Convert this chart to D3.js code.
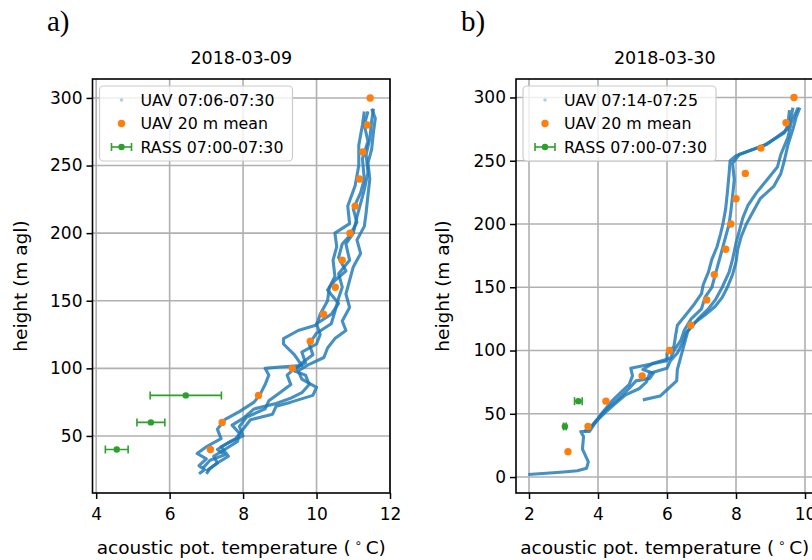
<!DOCTYPE html>
<html><head><meta charset="utf-8">
<script src="https://cdn.jsdelivr.net/npm/d3@7"></script>
<style>
body{margin:0;background:#fff}
svg{display:block}
text{font-family:"DejaVu Sans",sans-serif;fill:#000}
</style>
</head><body>
<svg id="c" width="812" height="560"></svg>
<script>
// ---------- DATA ----------
// Panel a) 2018-03-09
const titleA = "2018-03-09";
const uavLabelA = "UAV 07:06-07:30";
const xTicksA = [4, 6, 8, 10, 12];
const yTicksA = [50, 100, 150, 200, 250, 300];
const uavA1 = [[6.8,22],[6.95,25],[6.8,28],[7.0,33],[6.75,37],[7.0,42],[7.4,48],[7.3,55],[7.5,62],[7.9,68],[8.3,75],[8.45,80],[8.6,88],[8.7,95],[8.6,100],[9.0,101],[9.6,102],[9.4,110],[9.1,118],[9.1,122],[9.5,128],[10.0,132],[10.1,140],[10.3,150],[10.35,160],[10.5,168],[10.45,180],[10.55,190],[10.5,200],[10.9,207],[10.85,220],[11.05,235],[11.15,250],[11.15,265],[11.25,280],[11.3,290]];
const uavA2 = [[7.0,22],[7.1,26],[7.3,30],[7.2,35],[7.5,40],[7.85,46],[7.9,52],[7.7,58],[8.0,63],[8.3,70],[8.9,74],[9.3,78],[9.6,82],[9.8,88],[9.7,95],[9.4,98],[9.6,104],[9.9,110],[9.8,118],[10.0,126],[10.4,133],[10.5,142],[10.6,152],[10.7,160],[10.6,170],[10.9,180],[10.8,192],[11.0,200],[11.1,212],[11.2,222],[11.3,232],[11.4,245],[11.35,258],[11.45,270],[11.5,283],[11.55,292]];
const uavA3 = [[7.0,24],[7.3,30],[7.6,35],[7.4,42],[7.8,48],[8.0,55],[8.2,62],[8.8,66],[8.9,72],[9.3,75],[9.9,80],[10.0,86],[9.6,92],[9.5,98],[9.8,103],[10.2,108],[10.3,115],[10.5,122],[10.8,128],[10.7,135],[10.9,145],[10.8,155],[10.9,165],[11.0,175],[11.2,185],[11.1,195],[11.3,205],[11.35,215],[11.4,228],[11.45,240],[11.4,252],[11.5,262],[11.55,275],[11.6,285],[11.5,292]];
const uavA4 = [[6.9,26],[7.1,32],[7.5,36],[7.3,40],[7.6,45],[8.0,50],[7.9,57],[8.1,64],[8.6,70],[8.7,76],[9.0,82],[9.3,88],[9.2,95],[9.4,100],[9.7,104],[9.6,112],[10.0,118],[10.1,125],[10.0,133],[10.4,140],[10.6,148],[10.3,158],[10.5,165],[10.8,172],[10.6,182],[10.7,192],[10.9,198],[11.1,208],[11.0,218],[11.2,230],[11.3,240],[11.25,255],[11.4,268],[11.3,280],[11.4,290]];
const meanHA = [40,60,80,100,120,140,160,180,200,220,240,260,280,300];
const meanTA = [7.11,7.43,8.42,9.34,9.83,10.19,10.51,10.70,10.91,11.05,11.17,11.26,11.38,11.46];
const rassHA = [40, 60, 80];
const rassTA = [4.56, 5.49, 6.44];
const rassEA = [0.31, 0.38, 0.97];

// Panel b) 2018-03-30
const titleB = "2018-03-30";
const uavLabelB = "UAV 07:14-07:25";
const xTicksB = [2, 4, 6, 8, 10];
const yTicksB = [0, 50, 100, 150, 200, 250, 300];
const uavB1 = [[1.98,2],[2.5,3],[3.0,4],[3.4,5],[3.67,7],[3.72,12],[3.55,22],[3.58,32],[3.5,36],[3.75,36],[3.9,42],[4.1,50],[4.4,60],[4.7,68],[4.9,73],[5.0,80],[4.95,86],[5.3,88],[6.0,92],[6.0,98],[6.2,103],[6.25,112],[6.3,120],[6.6,130],[6.8,137],[7.0,145],[7.05,152],[7.2,162],[7.3,172],[7.45,182],[7.55,192],[7.62,200],[7.7,212],[7.75,225],[7.8,240],[7.83,250],[8.0,254],[8.8,262],[9.4,272],[9.5,278],[9.55,290]];
const uavB2 = [[3.6,36],[3.8,40],[4.05,48],[4.3,55],[4.6,62],[4.9,70],[5.1,76],[5.5,78],[5.6,82],[5.3,85],[5.6,90],[6.1,94],[6.2,100],[6.4,108],[6.5,116],[6.7,125],[7.0,133],[7.1,142],[7.3,150],[7.4,160],[7.5,170],[7.6,180],[7.7,190],[7.8,200],[7.85,210],[7.9,222],[7.95,235],[7.9,248],[8.1,255],[8.9,263],[9.5,275],[9.6,285],[9.65,292]];
const uavB3 = [[5.3,61],[5.8,64],[6.0,69],[6.28,76],[6.3,85],[6.4,95],[6.5,105],[6.6,115],[6.9,125],[7.2,133],[7.4,140],[7.6,150],[7.8,162],[7.9,172],[8.0,185],[8.1,195],[8.2,205],[8.35,215],[8.6,225],[8.9,235],[9.2,245],[9.3,255],[9.5,268],[9.6,280],[9.8,292]];
const uavB4 = [[3.7,37],[3.95,44],[4.25,52],[4.5,58],[4.8,65],[5.2,70],[5.4,75],[5.5,82],[6.0,86],[6.1,92],[6.3,98],[6.45,106],[6.55,114],[6.8,122],[7.1,128],[7.4,135],[7.6,142],[7.75,150],[7.9,160],[8.0,170],[8.05,180],[8.15,190],[8.3,200],[8.5,210],[8.7,220],[9.1,230],[9.3,240],[9.4,250],[9.5,262],[9.65,275],[9.75,285],[9.85,292]];
const meanHB = [20,40,60,80,100,120,140,160,180,200,220,240,260,280,300];
const meanTB = [3.13,3.71,4.23,5.28,6.07,6.69,7.15,7.37,7.70,7.85,8.00,8.27,8.72,9.45,9.68];
const rassHB = [40, 60];
const rassTB = [3.04, 3.43];
const rassEB = [0.04, 0.11];

const meanLabel = "UAV 20 m mean";
const rassLabel = "RASS 07:00-07:30";
const xLabel = "acoustic pot. temperature (";
const yLabel = "height (m agl)";

// ---------- DRAW ----------
const svg = d3.select("#c");
const C_UAV = "#1f77b4", C_MEAN = "#ff7f0e", C_RASS = "#2ca02c";
const FS_LEG = 15.8, FS_TICK = 17, FS_LAB = 18.5, FS_TITLE = 17.5;

function panel(o) {
  const x = d3.scaleLinear().domain(o.xDom).range([o.left, o.right]);
  const y = d3.scaleLinear().domain(o.yDom).range([o.bottom, o.top]);
  const g = svg.append("g");
  const clipId = "clip" + o.id;
  svg.append("defs").append("clipPath").attr("id", clipId)
    .append("rect").attr("x", o.left).attr("y", o.top)
    .attr("width", o.right - o.left).attr("height", o.bottom - o.top);

  // grid
  g.append("g").selectAll("line").data(o.xTicks).join("line")
    .attr("x1", d => x(d)).attr("x2", d => x(d))
    .attr("y1", o.top).attr("y2", o.bottom)
    .attr("stroke", "#b0b0b0").attr("stroke-width", 1.6);
  g.append("g").selectAll("line").data(o.yTicks).join("line")
    .attr("y1", d => y(d)).attr("y2", d => y(d))
    .attr("x1", o.left).attr("x2", o.right)
    .attr("stroke", "#b0b0b0").attr("stroke-width", 1.6);

  // UAV traces
  const line = d3.line().x(d => x(d[0])).y(d => y(d[1])).curve(d3.curveLinear);
  const tg = g.append("g").attr("clip-path", `url(#${clipId})`);
  o.traces.forEach((t, i) => {
    tg.append("path").attr("d", line(t)).attr("fill", "none")
      .attr("stroke", C_UAV).attr("stroke-width", 3.1)
      .attr("stroke-opacity", 0.82).attr("stroke-linejoin", "round");
  });

  // means
  tg.append("g").selectAll("circle").data(o.meanH.map((h, i) => [o.meanT[i], h])).join("circle")
    .attr("cx", d => x(d[0])).attr("cy", d => y(d[1])).attr("r", 3.7)
    .attr("fill", C_MEAN);

  // RASS
  const rg = tg.append("g");
  o.rassH.forEach((h, i) => {
    const t = o.rassT[i], e = o.rassE[i];
    const yy = y(h);
    rg.append("line").attr("x1", x(t - e)).attr("x2", x(t + e)).attr("y1", yy).attr("y2", yy)
      .attr("stroke", C_RASS).attr("stroke-width", 1.6);
    [t - e, t + e].forEach(v => rg.append("line").attr("x1", x(v)).attr("x2", x(v))
      .attr("y1", yy - 4).attr("y2", yy + 4).attr("stroke", C_RASS).attr("stroke-width", 1.6));
    rg.append("circle").attr("cx", x(t)).attr("cy", yy).attr("r", 3.2).attr("fill", C_RASS);
  });

  // spines
  g.append("rect").attr("x", o.left).attr("y", o.top)
    .attr("width", o.right - o.left).attr("height", o.bottom - o.top)
    .attr("fill", "none").attr("stroke", "#000").attr("stroke-width", 1.6);

  // axes ticks
  const xa = d3.axisBottom(x).tickValues(o.xTicks).tickSize(6).tickPadding(9).tickFormat(d3.format("d"));
  const gx = g.append("g").attr("transform", `translate(0,${o.bottom})`).call(xa);
  gx.select(".domain").remove();
  gx.selectAll("line").attr("stroke-width", 1.5);
  gx.selectAll("text").attr("font-size", FS_TICK).attr("font-family", "DejaVu Sans");
  const ya = d3.axisLeft(y).tickValues(o.yTicks).tickSize(6).tickPadding(4).tickFormat(d3.format("d"));
  const gy = g.append("g").attr("transform", `translate(${o.left},0)`).call(ya);
  gy.select(".domain").remove();
  gy.selectAll("line").attr("stroke-width", 1.5);
  gy.selectAll("text").attr("font-size", FS_TICK).attr("font-family", "DejaVu Sans");

  // title
  g.append("text").attr("x", (o.left + o.right) / 2).attr("y", 64)
    .attr("text-anchor", "middle").attr("font-size", FS_TITLE).text(o.title);
  // panel letter
  g.append("text").attr("x", o.letterX).attr("y", 31)
    .style("font-family", "'Liberation Serif', 'Times New Roman', serif")
    .attr("font-size", 29).text(o.letter);
  // x label
  const xl = g.append("text").attr("x", (o.left + o.right) / 2).attr("y", 554)
    .attr("text-anchor", "middle").attr("font-size", FS_LAB);
  xl.append("tspan").text(xLabel + "\u2009");
  xl.append("tspan").attr("dy", -7).attr("font-size", 12).text("\u2218");
  xl.append("tspan").attr("dy", 7).text("\u2009C)");
  // y label
  g.append("text").attr("transform", `translate(${o.yLabX},${(o.top + o.bottom) / 2}) rotate(-90)`)
    .attr("text-anchor", "middle").attr("font-size", FS_LAB).text(yLabel);

  // legend
  const lx = o.left + 7, ly = 86;
  const lg = g.append("g");
  lg.append("rect").attr("x", lx).attr("y", ly).attr("width", 193).attr("height", 75)
    .attr("rx", 4).attr("fill", "#fff").attr("fill-opacity", 0.8)
    .attr("stroke", "#cccccc").attr("stroke-width", 1.2);
  const mx = lx + 22, tx = lx + 41;
  const rows = [ly + 14, ly + 37.5, ly + 61];
  lg.append("circle").attr("cx", mx).attr("cy", rows[0]).attr("r", 1.8)
    .attr("fill", C_UAV).attr("fill-opacity", 0.35);
  lg.append("circle").attr("cx", mx).attr("cy", rows[1]).attr("r", 3.7).attr("fill", C_MEAN);
  lg.append("line").attr("x1", mx - 10).attr("x2", mx + 10).attr("y1", rows[2]).attr("y2", rows[2])
    .attr("stroke", C_RASS).attr("stroke-width", 1.6);
  [mx - 10, mx + 10].forEach(v => lg.append("line").attr("x1", v).attr("x2", v)
    .attr("y1", rows[2] - 4).attr("y2", rows[2] + 4).attr("stroke", C_RASS).attr("stroke-width", 1.6));
  lg.append("circle").attr("cx", mx).attr("cy", rows[2]).attr("r", 3.2).attr("fill", C_RASS);
  [o.uavLabel, meanLabel, rassLabel].forEach((t, i) =>
    lg.append("text").attr("x", tx).attr("y", rows[i]).attr("dy", "0.36em")
      .attr("font-size", FS_LEG).text(t));
}

panel({id: "A", left: 92.5, right: 390, top: 79, bottom: 493,
  xDom: [3.9, 12], yDom: [7.8, 314], xTicks: xTicksA, yTicks: yTicksA,
  traces: [uavA1, uavA2, uavA3, uavA4], meanH: meanHA, meanT: meanTA,
  rassH: rassHA, rassT: rassTA, rassE: rassEA, title: titleA, letter: "a)", letterX: 47,
  yLabX: 27, uavLabel: uavLabelA});

panel({id: "B", left: 516, right: 813.5, top: 79, bottom: 493,
  xDom: [1.623, 10.246], yDom: [-12.6, 314.6], xTicks: xTicksB, yTicks: yTicksB,
  traces: [uavB1, uavB2, uavB3, uavB4], meanH: meanHB, meanT: meanTB,
  rassH: rassHB, rassT: rassTB, rassE: rassEB, title: titleB, letter: "b)", letterX: 461,
  yLabX: 449, uavLabel: uavLabelB});
</script>
</body></html>
